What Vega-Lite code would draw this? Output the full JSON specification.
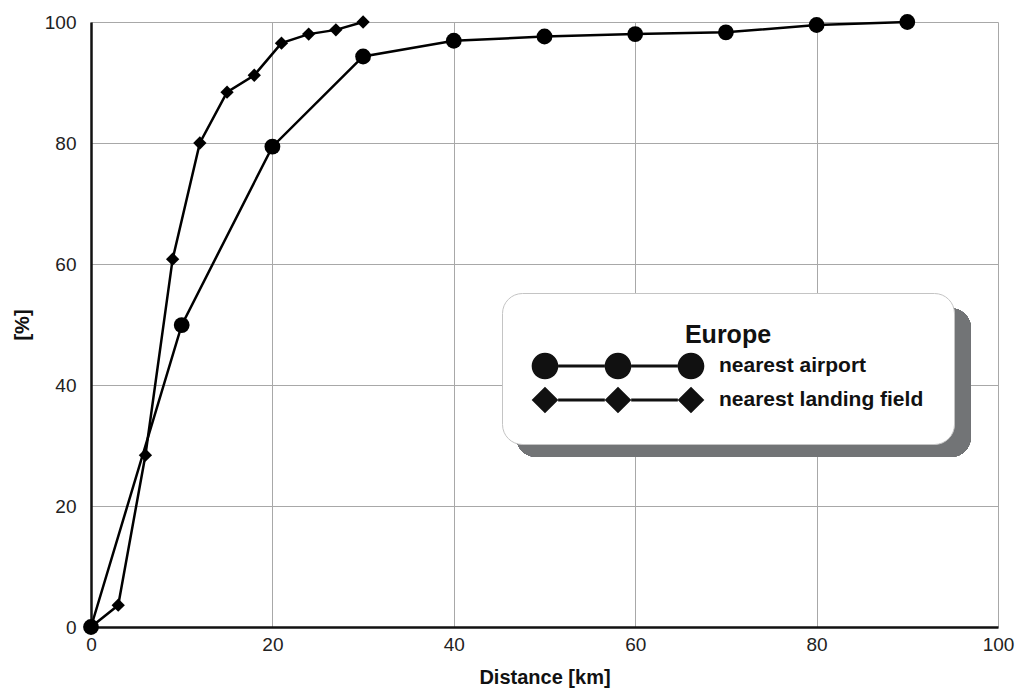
{
  "$schema": "https://vega.github.io/schema/vega-lite/v6.json",
  "width": 907,
  "height": 605,
  "autosize": {"type": "none"},
  "padding": {"left": 91, "top": 22, "right": 20, "bottom": 63},
  "background": "white",
  "config": {
    "view": {"stroke": null},
    "font": "Liberation Sans",
    "axis": {
      "grid": true,
      "gridColor": "#a8a8a8",
      "gridWidth": 1,
      "ticks": false,
      "labelFlush": false,
      "domainColor": "#111111",
      "domainWidth": 2.5,
      "labelFont": "Liberation Sans",
      "labelFontSize": 19,
      "labelColor": "#222222",
      "titleFont": "Liberation Sans",
      "titleFontSize": 20,
      "titleFontWeight": "bold",
      "titleColor": "#111111"
    }
  },
  "data": {
    "values": [
      {"series": "nearest airport", "distance": 0, "pct": 0},
      {"series": "nearest airport", "distance": 10, "pct": 49.9},
      {"series": "nearest airport", "distance": 20, "pct": 79.4},
      {"series": "nearest airport", "distance": 30, "pct": 94.3},
      {"series": "nearest airport", "distance": 40, "pct": 96.9},
      {"series": "nearest airport", "distance": 50, "pct": 97.6},
      {"series": "nearest airport", "distance": 60, "pct": 98.0},
      {"series": "nearest airport", "distance": 70, "pct": 98.3},
      {"series": "nearest airport", "distance": 80, "pct": 99.5},
      {"series": "nearest airport", "distance": 90, "pct": 100},
      {"series": "nearest landing field", "distance": 0, "pct": 0},
      {"series": "nearest landing field", "distance": 3, "pct": 3.6},
      {"series": "nearest landing field", "distance": 6, "pct": 28.4},
      {"series": "nearest landing field", "distance": 9, "pct": 60.8},
      {"series": "nearest landing field", "distance": 12, "pct": 80.0},
      {"series": "nearest landing field", "distance": 15, "pct": 88.4},
      {"series": "nearest landing field", "distance": 18, "pct": 91.2},
      {"series": "nearest landing field", "distance": 21, "pct": 96.5},
      {"series": "nearest landing field", "distance": 24, "pct": 98.0},
      {"series": "nearest landing field", "distance": 27, "pct": 98.7},
      {"series": "nearest landing field", "distance": 30, "pct": 100}
    ]
  },
  "layer": [
    {
      "mark": {"type": "rect", "fill": "#727476", "cornerRadius": 20},
      "encoding": {
        "x": {"datum": 46.9, "type": "quantitative", "scale": {"domain": [0, 100]},
              "axis": {"values": [0, 20, 40, 60, 80, 100], "title": "Distance [km]", "labelPadding": 8, "titlePadding": 13}},
        "x2": {"datum": 97.0},
        "y": {"datum": 52.7, "type": "quantitative", "scale": {"domain": [0, 100]},
              "axis": {"values": [0, 20, 40, 60, 80, 100], "title": "[%]", "labelPadding": 15, "titlePadding": 12}},
        "y2": {"datum": 28.1}
      }
    },
    {
      "mark": {"type": "line", "color": "black", "strokeWidth": 2.5},
      "encoding": {
        "x": {"field": "distance", "type": "quantitative"},
        "y": {"field": "pct", "type": "quantitative"},
        "detail": {"field": "series"}
      }
    },
    {
      "mark": {"type": "point", "filled": true, "color": "#111111", "opacity": 0, "size": 10},
      "encoding": {
        "x": {"field": "distance", "type": "quantitative"},
        "y": {"field": "pct", "type": "quantitative"},
        "shape": {
          "field": "series", "type": "nominal",
          "scale": {
            "domain": ["nearest airport", "nearest landing field"],
            "range": [
              "M-5.756,0A0.889,0.889,0,1,0,-3.978,0A0.889,0.889,0,1,0,-5.756,0Z M-0.889,0A0.889,0.889,0,1,0,0.889,0A0.889,0.889,0,1,0,-0.889,0Z M3.978,0A0.889,0.889,0,1,0,5.756,0A0.889,0.889,0,1,0,3.978,0Z M-3.984,-0.1L-0.883,-0.1L-0.883,0.1L-3.984,0.1Z M0.883,-0.1L3.984,-0.1L3.984,0.1L0.883,0.1Z",
              "M-5.756,0L-4.867,-0.889L-3.978,0L-4.867,0.889Z M-0.889,0L0,-0.889L0.889,0L0,0.889Z M3.978,0L4.867,-0.889L5.756,0L4.867,0.889Z M-3.99,-0.1L-0.88,-0.1L-0.88,0.1L-3.99,0.1Z M0.88,-0.1L3.99,-0.1L3.99,0.1L0.88,0.1Z"
            ]
          },
          "legend": {
            "title": "Europe",
            "orient": "none",
            "legendX": 411,
            "legendY": 271,
            "padding": 30,
            "fillColor": "white",
            "strokeColor": "#c4c4c4",
            "cornerRadius": 20,
            "titleFont": "Liberation Sans",
            "titleFontSize": 25,
            "titleFontWeight": "bold",
            "titleColor": "#111111",
            "titleAnchor": "middle",
            "titlePadding": 3,
            "labelFont": "Liberation Sans",
            "labelFontSize": 21,
            "labelFontWeight": "bold",
            "labelColor": "#111111",
            "labelLimit": 400,
            "labelOffset": 86,
            "symbolOffset": 71,
            "symbolSize": 900,
            "symbolStrokeWidth": 0,
            "symbolOpacity": 1,
            "symbolFillColor": "#111111",
            "rowPadding": 5,
            "encode": {
              "title": {"dy": {"value": 4}}
            }
          }
        }
      }
    },
    {
      "transform": [{"filter": "datum.series === 'nearest airport'"}],
      "mark": {"type": "point", "shape": "circle", "filled": true, "color": "black", "opacity": 1, "size": 250},
      "encoding": {
        "x": {"field": "distance", "type": "quantitative"},
        "y": {"field": "pct", "type": "quantitative"}
      }
    },
    {
      "transform": [{"filter": "datum.series === 'nearest landing field'"}],
      "mark": {"type": "point", "shape": "diamond", "filled": true, "color": "black", "opacity": 1, "size": 177},
      "encoding": {
        "x": {"field": "distance", "type": "quantitative"},
        "y": {"field": "pct", "type": "quantitative"}
      }
    }
  ]
}
